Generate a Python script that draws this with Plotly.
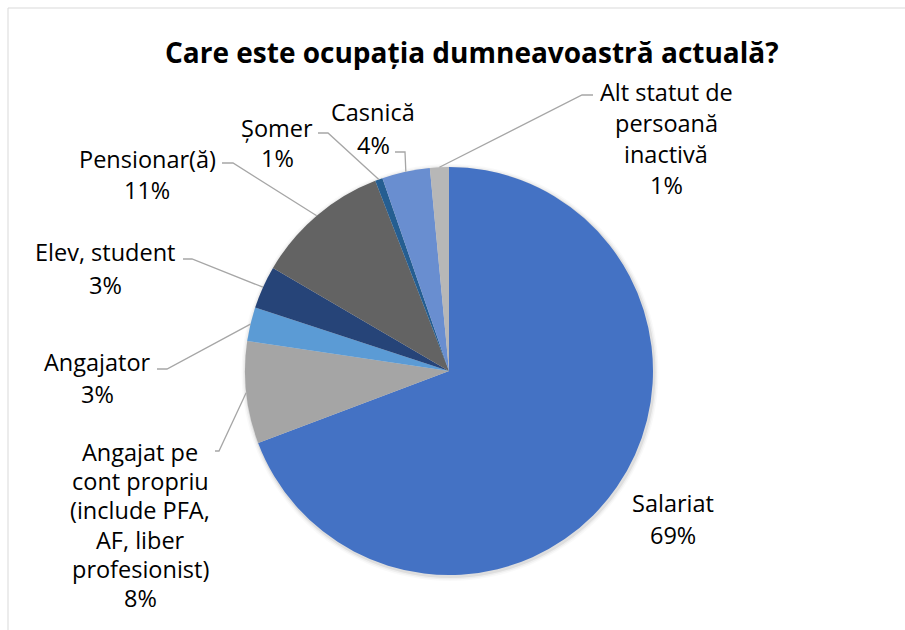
import plotly.graph_objects as go
import math

# ---------------- data ----------------
categories = [
    "Salariat",
    "Angajat pe cont propriu (include PFA, AF, liber profesionist)",
    "Angajator",
    "Elev, student",
    "Pensionar(ă)",
    "Șomer",
    "Casnică",
    "Alt statut de persoană inactivă",
]
values = [69.4, 8.1, 2.7, 3.4, 10.7, 0.6, 3.8, 1.5]
label_lines = [
    ["Salariat"],
    ["Angajat pe", "cont propriu", "(include PFA,", "AF, liber", "profesionist)"],
    ["Angajator"],
    ["Elev, student"],
    ["Pensionar(ă)"],
    ["Șomer"],
    ["Casnică"],
    ["Alt statut de", "persoană", "inactivă"],
]
title_text = "Care este ocupația dumneavoastră actuală?"

# ---------------- styles / layout ----------------
colors = ["#4472C4", "#A5A5A5", "#5B9BD5", "#264478", "#636363", "#255E91", "#698ED0", "#B7B7B7"]
W, H = 905, 630
CX, CY, R = 449, 371, 204
FONT = "Open Sans"
LABEL_SIZE = 23.5
TITLE_SIZE = 28
# label block: center x, first-line y, line spacing (pixels)
label_pos = [
    (673, 503, 32),
    (140, 452, 29.2),
    (97, 362, 32),
    (105, 252, 33),
    (147, 159, 31),
    (277, 128, 30),
    (373, 112, 33),
    (666, 92, 31),
]
# leader: (stub start x, elbow x, y) or None
leaders = [
    None,
    (215, 219, 451),
    (157, 167, 369),
    (183, 192, 259),
    (222, 233, 163),
    (318, 328, 133),
    (395, 405, 152),
    (593, 582, 95),
]


def px(x):
    return x / W


def py(y):
    return 1 - y / H


fig = go.Figure()

# soft shadow behind the pie
for extra, op in [(4.5, 0.025), (3, 0.04), (1.5, 0.07)]:
    r = R + extra
    fig.add_trace(go.Pie(
        values=[1], labels=["shadow"], sort=False,
        marker=dict(colors=[f"rgba(0,0,0,{op})"], line=dict(width=0)),
        textinfo="none", hoverinfo="skip", showlegend=False,
        domain=dict(x=[px(CX + 1 - r), px(CX + 1 + r)], y=[py(CY + 1.5 + r), py(CY + 1.5 - r)]),
    ))

fig.add_trace(go.Pie(
    labels=categories,
    values=values,
    sort=False,
    direction="clockwise",
    rotation=0,
    marker=dict(colors=colors, line=dict(width=0)),
    textinfo="none",
    hoverinfo="label+percent",
    domain=dict(x=[px(CX - R), px(CX + R)], y=[py(CY + R), py(CY - R)]),
    showlegend=False,
))

total = sum(values)
annotations = []
shapes = []

cum = 0.0
for i, v in enumerate(values):
    mid = 360.0 * (cum + v / 2) / total
    cum += v
    ex = CX + R * math.sin(math.radians(mid))
    ey = CY - R * math.cos(math.radians(mid))
    pct = f"{round(v / total * 100):.0f}%"
    lines = label_lines[i] + [pct]
    cx, y0, dy = label_pos[i]
    for k, t in enumerate(lines):
        annotations.append(dict(
            x=px(cx), y=py(y0 + k * dy), xref="paper", yref="paper",
            text=t, showarrow=False, xanchor="center", yanchor="middle",
            font=dict(family=FONT, size=LABEL_SIZE, color="#000000"),
        ))
    if leaders[i] is not None:
        sx, elx, ly = leaders[i]
        shapes.append(dict(
            type="path", xref="paper", yref="paper",
            path=f"M {px(sx)},{py(ly)} L {px(elx)},{py(ly)} L {px(ex)},{py(ey)}",
            line=dict(color="#A6A6A6", width=1.3),
        ))

annotations.append(dict(
    x=px(472), y=py(52), xref="paper", yref="paper",
    text=f"<b>{title_text}</b>", showarrow=False, xanchor="center", yanchor="middle",
    font=dict(family=FONT, size=TITLE_SIZE, color="#000000"),
))

# chart area border (top and left visible)
shapes.append(dict(type="line", xref="paper", yref="paper",
                   x0=px(8), y0=py(8), x1=px(905), y1=py(8),
                   line=dict(color="#D9D9D9", width=1)))
shapes.append(dict(type="line", xref="paper", yref="paper",
                   x0=px(8), y0=py(8), x1=px(8), y1=py(630),
                   line=dict(color="#D9D9D9", width=1)))

fig.update_layout(
    width=W, height=H,
    margin=dict(l=0, r=0, t=0, b=0),
    paper_bgcolor="white", plot_bgcolor="white",
    annotations=annotations,
    shapes=shapes,
)

fig.write_html(
    "out.html",
    config={"displayModeBar": False},
    post_script="document.body.style.margin='0px';document.body.style.padding='0px';",
)
